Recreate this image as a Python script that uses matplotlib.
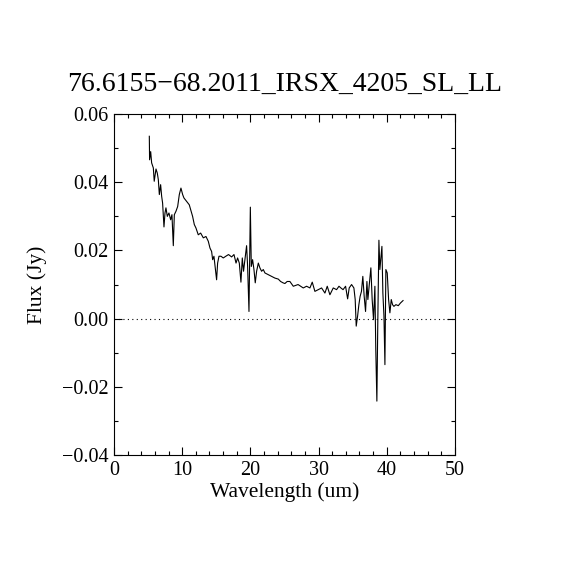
import matplotlib
matplotlib.use('Agg')
import matplotlib.pyplot as plt
from matplotlib.ticker import MultipleLocator

# Spectrum
wavelength = [5.18, 5.22, 5.38, 5.52, 5.77, 5.90, 6.16, 6.35, 6.50, 6.65,
              6.84, 6.99, 7.13, 7.33, 7.48, 7.62, 7.82, 8.06, 8.31, 8.50,
              8.70, 8.85, 9.09, 9.34, 9.58, 9.82, 10.07, 10.26, 10.66, 11.04,
              11.24, 11.53, 11.78, 12.02, 12.36, 12.71, 13.10, 13.49, 13.83, 14.08,
              14.32, 14.47, 14.66, 14.86, 15.05, 15.20, 15.40, 15.69, 16.03, 16.40,
              16.80, 17.25, 17.60, 17.90, 18.13, 18.38, 18.62, 18.82, 19.00, 19.20,
              19.45, 19.60, 19.80, 20.00, 20.14, 20.33, 20.53, 20.72, 20.92, 21.17,
              21.40, 21.65, 21.90, 22.14, 22.63, 23.10, 23.60, 24.10, 24.44, 24.80,
              25.07, 25.40, 25.80, 26.30, 27.00, 27.76, 28.25, 28.74, 29.08, 29.47,
              29.96, 30.45, 30.94, 31.28, 31.67, 32.16, 32.65, 33.00, 33.28, 33.60,
              33.97, 34.27, 34.50, 34.85, 35.19, 35.38, 35.53, 35.73, 35.92, 36.10,
              36.30, 36.50, 36.70, 36.90, 37.10, 37.24, 37.43, 37.68, 37.87, 38.07,
              38.27, 38.40, 38.56, 38.70, 38.86, 39.00, 39.15, 39.30, 39.44, 39.60,
              39.74, 39.88, 40.08, 40.28, 40.47, 40.67, 40.86, 41.06, 41.35, 41.70,
              42.03, 42.40]
flux = [0.0535, 0.0466, 0.0490, 0.0457, 0.0442, 0.0403, 0.0439, 0.0427, 0.0408, 0.0364,
        0.0393, 0.0359, 0.0339, 0.0269, 0.0310, 0.0325, 0.0300, 0.0310, 0.0290, 0.0305,
        0.0214, 0.0305, 0.0315, 0.0329, 0.0364, 0.0383, 0.0364, 0.0354, 0.0344, 0.0334,
        0.0320, 0.0300, 0.0276, 0.0266, 0.0246, 0.0251, 0.0237, 0.0241, 0.0227, 0.0207,
        0.0197, 0.0173, 0.0183, 0.0149, 0.0114, 0.0163, 0.0183, 0.0183, 0.0178, 0.0183,
        0.0188, 0.0181, 0.0188, 0.0163, 0.0178, 0.0163, 0.0107, 0.0178, 0.0139, 0.0173,
        0.0214, 0.0153, 0.0021, 0.0327, 0.0153, 0.0173, 0.0144, 0.0105, 0.0139, 0.0163,
        0.0149, 0.0139, 0.0144, 0.0134, 0.0129, 0.0124, 0.0119, 0.0116, 0.0109, 0.0105,
        0.0103, 0.0109, 0.0109, 0.0095, 0.0100, 0.0090, 0.0095, 0.0090, 0.0107, 0.0080,
        0.0085, 0.0090, 0.0075, 0.0095, 0.0070, 0.0090, 0.0085, 0.0095, 0.0090, 0.0085,
        0.0095, 0.0058, 0.0090, 0.0100, 0.0090, 0.0056, -0.0022, 0.0007, 0.0041, 0.0065,
        0.0080, 0.0124, 0.0065, 0.0021, 0.0109, 0.0056, 0.0095, 0.0149, 0.0056, -0.0003,
        0.0095, -0.0091, -0.0242, -0.0003, 0.0230, 0.0144, 0.0178, 0.0212, 0.0075, 0.0007,
        -0.0135, 0.0144, 0.0134, 0.0056, 0.0017, 0.0056, 0.0041, 0.0036, 0.0041, 0.0038,
        0.0046, 0.0053]

plt.rcParams['font.family'] = ['Liberation Serif', 'DejaVu Serif']

fig = plt.figure(figsize=(5.7, 5.7), dpi=100)
ax = fig.add_axes([0.2, 0.2018, 0.598, 0.598])

ax.plot(wavelength, flux, color='black', linewidth=0.8)
ax.axhline(0.0, color='black', linestyle=(0, (1, 3)), linewidth=0.8)

ax.set_xlim(0, 50)
ax.set_ylim(-0.04, 0.06)
ax.xaxis.set_major_locator(MultipleLocator(10))
ax.xaxis.set_minor_locator(MultipleLocator(2))
ax.yaxis.set_major_locator(MultipleLocator(0.02))
ax.yaxis.set_minor_locator(MultipleLocator(0.01))
ax.yaxis.set_major_formatter(plt.FuncFormatter(
    lambda v, p: ('%.2f' % v).replace('-', '\u2212') if abs(v) > 1e-9 else '0.00'))

ax.tick_params(which='both', direction='in', top=True, right=True,
               labelsize=14.5, width=0.8, colors='black')
ax.tick_params(which='major', length=6, pad=4)
ax.tick_params(which='minor', length=3)
for s in ax.spines.values():
    s.set_linewidth(0.8)

ax.set_title('76.6155\u221268.2011_IRSX_4205_SL_LL', fontsize=20, pad=17)
ax.set_xlabel('Wavelength (um)', fontsize=15.5, labelpad=2)
ax.set_ylabel('Flux (Jy)', fontsize=15.5, labelpad=11)

fig.savefig('out.png', dpi=100, facecolor='white')
